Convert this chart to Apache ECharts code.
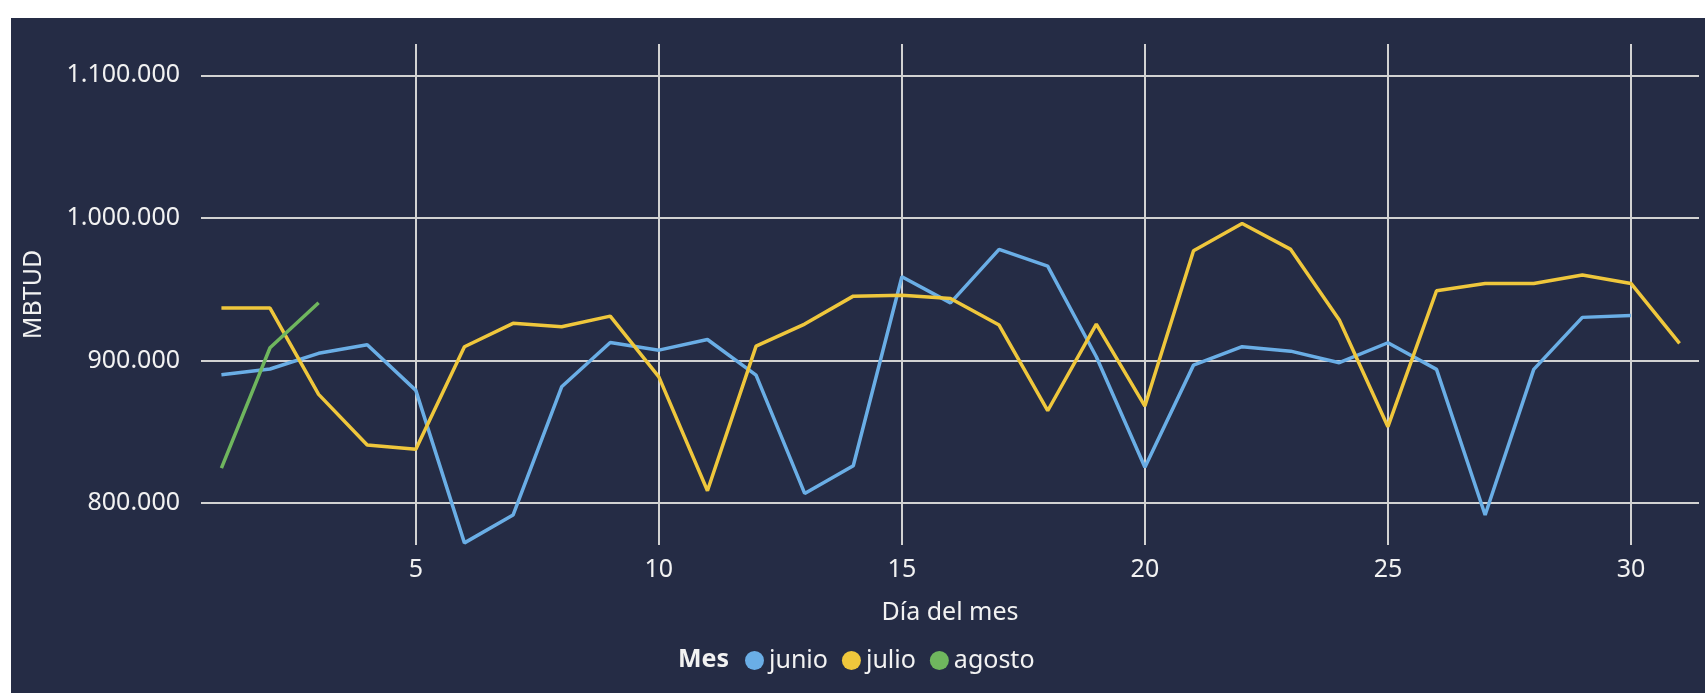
<!DOCTYPE html>
<html>
<head>
<meta charset="utf-8">
<script src="https://cdn.jsdelivr.net/npm/echarts@6/dist/echarts.min.js"></script>
<style>
html,body{margin:0;padding:0;background:#ffffff;width:1705px;height:693px;overflow:hidden;}
#chart{position:absolute;left:11px;top:18px;width:1694px;height:675px;background:#252c45;}
</style>
</head>
<body>
<div id="chart"></div>
<script>
var days = [1,2,3,4,5,6,7,8,9,10,11,12,13,14,15,16,17,18,19,20,21,22,23,24,25,26,27,28,29,30,31];
var seriesNames = ['junio','julio','agosto'];
var junio = [890000,894000,905000,911000,879000,772000,791500,881500,912600,907200,914700,889700,806700,826100,958700,940400,977900,966200,902600,825000,896700,909600,906500,898400,912400,893700,791500,893700,930200,931600];
var julio = [936700,936700,876200,840600,837600,909600,926000,923600,931100,888500,808600,910000,925500,945100,945800,943500,924800,864700,925500,868000,976900,996100,977900,928300,853500,948900,954000,954000,959900,954000,911900];
var agosto = [824500,908900,940400];
var colors = ['#6aaee6','#efc73c','#6fb65e'];

function pairs(vals){ return vals.map(function(v,i){ return [days[i], v]; }); }
function fmt(v){ return String(Math.round(v)).replace(/\B(?=(\d{3})+(?!\d))/g, '.'); }

var font = 'Noto Sans';
var txt = '#f2f2f2';
var gridColor = '#d2d2d2';

var chart = echarts.init(document.getElementById('chart'), null, {renderer:'canvas'});
chart.setOption({
  backgroundColor: '#252c45',
  animation: false,
  title: {
    text: 'Mes', left: 667, top: 629, padding: 0,
    textStyle: {color: txt, fontFamily: font, fontSize: 25, fontWeight: 'bold'}
  },
  legend: {
    data: seriesNames, left: 734, top: 630, padding: 0,
    itemWidth: 19, itemHeight: 19, itemGap: 14, icon: 'circle',
    textStyle: {color: txt, fontFamily: font, fontSize: 25}
  },
  grid: {left: 190, right: 6, top: 26, bottom: 148, containLabel: false},
  xAxis: {
    type: 'value', min: 0.58, max: 31.4, splitNumber: 6,
    name: 'Día del mes', nameLocation: 'middle', nameGap: 55,
    nameTextStyle: {color: txt, fontFamily: font, fontSize: 25},
    axisLine: {show: false}, axisTick: {show: false},
    axisLabel: {color: txt, fontFamily: font, fontSize: 25, margin: 12, showMinLabel: false, showMaxLabel: false},
    splitLine: {show: true, showMinLine: false, showMaxLine: false, lineStyle: {color: gridColor, width: 2}}
  },
  yAxis: {
    type: 'value', min: 770500, max: 1122000, splitNumber: 4,
    name: 'MBTUD', nameLocation: 'middle', nameGap: 155,
    nameTextStyle: {color: txt, fontFamily: font, fontSize: 25},
    axisLine: {show: false}, axisTick: {show: false},
    axisLabel: {color: txt, fontFamily: font, fontSize: 25, margin: 21, showMinLabel: false, showMaxLabel: false, formatter: fmt},
    splitLine: {show: true, showMinLine: false, showMaxLine: false, lineStyle: {color: gridColor, width: 2}}
  },
  series: [
    {name: seriesNames[0], type: 'line', data: pairs(junio), showSymbol: false, color: colors[0], lineStyle: {width: 3.5, color: colors[0]}},
    {name: seriesNames[1], type: 'line', data: pairs(julio), showSymbol: false, color: colors[1], lineStyle: {width: 3.5, color: colors[1]}},
    {name: seriesNames[2], type: 'line', data: pairs(agosto), showSymbol: false, color: colors[2], lineStyle: {width: 3.5, color: colors[2]}}
  ]
});
</script>
</body>
</html>
